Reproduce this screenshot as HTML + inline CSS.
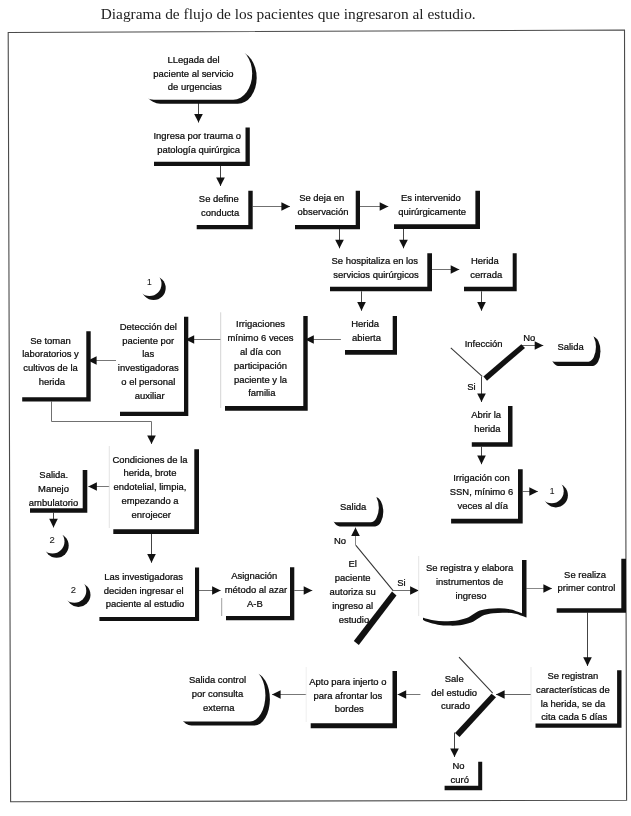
<!DOCTYPE html>
<html><head><meta charset="utf-8"><title>Diagrama de flujo</title>
<style>
html,body{margin:0;padding:0;background:#fff;}
body{width:631px;height:816px;overflow:hidden;font-family:"Liberation Sans",sans-serif;}
svg{display:block;will-change:transform;transform:translateZ(0);}
svg text{font-family:"Liberation Sans",sans-serif;fill:#0a0a0a;stroke:#0a0a0a;stroke-width:0.24px;}
svg text.dig{stroke:#1a1a1a;stroke-width:0.1px;fill:#1a1a1a;}
svg text.title{font-family:"Liberation Serif",serif;fill:#222;stroke:none;}
</style></head><body>
<svg width="631" height="816" viewBox="0 0 631 816">
<rect width="631" height="816" fill="#fff"/>
<text class="title" x="100.7" y="18.5" font-size="14.6" textLength="375" lengthAdjust="spacingAndGlyphs">Diagrama de flujo de los pacientes que ingresaron al estudio.</text>
<path d="M198.5,103.0 L198.5,122.5" fill="none" stroke="#444" stroke-width="1.0"/>
<polygon points="198.5,122.5 194.2,113.9 202.8,113.9" fill="#111"/>
<path d="M220.5,166.0 L220.5,186.0" fill="none" stroke="#444" stroke-width="1.0"/>
<polygon points="220.5,186.0 216.2,177.4 224.8,177.4" fill="#111"/>
<path d="M252.7,206.5 L290.0,206.5" fill="none" stroke="#707070" stroke-width="1.0"/>
<polygon points="290.0,206.5 281.4,210.8 281.4,202.2" fill="#111"/>
<path d="M360.0,206.5 L388.3,206.5" fill="none" stroke="#707070" stroke-width="1.0"/>
<polygon points="388.3,206.5 379.7,210.8 379.7,202.2" fill="#111"/>
<path d="M339.5,229.0 L339.5,248.3" fill="none" stroke="#444" stroke-width="1.0"/>
<polygon points="339.5,248.3 335.2,239.7 343.8,239.7" fill="#111"/>
<path d="M403.5,229.0 L403.5,248.3" fill="none" stroke="#444" stroke-width="1.0"/>
<polygon points="403.5,248.3 399.2,239.7 407.8,239.7" fill="#111"/>
<path d="M432.0,269.5 L459.3,269.5" fill="none" stroke="#707070" stroke-width="1.0"/>
<polygon points="459.3,269.5 450.7,273.8 450.7,265.2" fill="#111"/>
<path d="M361.5,291.3 L361.5,310.7" fill="none" stroke="#444" stroke-width="1.0"/>
<polygon points="361.5,310.7 357.2,302.1 365.8,302.1" fill="#111"/>
<path d="M481.5,291.3 L481.5,310.7" fill="none" stroke="#444" stroke-width="1.0"/>
<polygon points="481.5,310.7 477.2,302.1 485.8,302.1" fill="#111"/>
<path d="M340.9,339.5 L305.2,339.5" fill="none" stroke="#707070" stroke-width="1.0"/>
<polygon points="305.2,339.5 313.8,335.2 313.8,343.8" fill="#111"/>
<path d="M220.9,339.5 L185.6,339.5" fill="none" stroke="#707070" stroke-width="1.0"/>
<polygon points="185.6,339.5 194.2,335.2 194.2,343.8" fill="#111"/>
<path d="M116.0,360.5 L88.0,360.5" fill="none" stroke="#777" stroke-width="1.0"/>
<polygon points="88.0,360.5 96.6,356.2 96.6,364.8" fill="#111"/>
<path d="M51.5,401.5 L51.5,421.5 L151.5,421.5 L151.5,444.0" fill="none" stroke="#707070" stroke-width="1.0"/>
<polygon points="151.5,444.0 147.2,435.4 155.8,435.4" fill="#111"/>
<path d="M109.3,486.5 L88.3,486.5" fill="none" stroke="#777" stroke-width="1.0"/>
<polygon points="88.3,486.5 96.9,482.2 96.9,490.8" fill="#111"/>
<path d="M53.5,512.7 L53.5,527.4" fill="none" stroke="#444" stroke-width="1.0"/>
<polygon points="53.5,527.4 49.2,518.8 57.8,518.8" fill="#111"/>
<path d="M151.5,534.0 L151.5,562.7" fill="none" stroke="#444" stroke-width="1.0"/>
<polygon points="151.5,562.7 147.2,554.1 155.8,554.1" fill="#111"/>
<path d="M199.0,590.5 L220.7,590.5" fill="none" stroke="#707070" stroke-width="1.0"/>
<polygon points="220.7,590.5 212.1,594.8 212.1,586.2" fill="#111"/>
<path d="M294.3,590.5 L312.3,590.5" fill="none" stroke="#707070" stroke-width="1.0"/>
<polygon points="312.3,590.5 303.7,594.8 303.7,586.2" fill="#111"/>
<path d="M355.5,545.5 L355.5,527.5" fill="none" stroke="#888" stroke-width="1.0"/>
<polygon points="355.5,527.5 359.8,536.1 351.2,536.1" fill="#111"/>
<path d="M393.3,590.5 L418.7,590.5" fill="none" stroke="#707070" stroke-width="1.0"/>
<polygon points="418.7,590.5 410.1,594.8 410.1,586.2" fill="#111"/>
<path d="M526.3,588.5 L552.0,588.5" fill="none" stroke="#888" stroke-width="1.0"/>
<polygon points="552.0,588.5 543.4,592.8 543.4,584.2" fill="#111"/>
<path d="M587.5,612.4 L587.5,665.9" fill="none" stroke="#444" stroke-width="1.0"/>
<polygon points="587.5,665.9 583.2,657.3 591.8,657.3" fill="#111"/>
<path d="M531.0,694.5 L496.0,694.5" fill="none" stroke="#666" stroke-width="1.0"/>
<polygon points="496.0,694.5 504.6,690.2 504.6,698.8" fill="#111"/>
<path d="M420.4,694.5 L397.6,694.5" fill="none" stroke="#777" stroke-width="1.0"/>
<polygon points="397.6,694.5 406.2,690.2 406.2,698.8" fill="#111"/>
<path d="M306.2,694.5 L272.0,694.5" fill="none" stroke="#777" stroke-width="1.0"/>
<polygon points="272.0,694.5 280.6,690.2 280.6,698.8" fill="#111"/>
<path d="M454.5,732.5 L454.5,757.0" fill="none" stroke="#444" stroke-width="1.0"/>
<polygon points="454.5,757.0 450.2,748.4 458.8,748.4" fill="#111"/>
<path d="M521.0,345.5 L543.3,345.5" fill="none" stroke="#666" stroke-width="1.0"/>
<polygon points="543.3,345.5 534.7,349.8 534.7,341.2" fill="#111"/>
<path d="M481.5,376.5 L481.5,402.0" fill="none" stroke="#444" stroke-width="1.0"/>
<polygon points="481.5,402.0 477.2,393.4 485.8,393.4" fill="#111"/>
<path d="M481.5,446.8 L481.5,464.2" fill="none" stroke="#444" stroke-width="1.0"/>
<polygon points="481.5,464.2 477.2,455.6 485.8,455.6" fill="#111"/>
<path d="M522.7,491.5 L537.9,491.5" fill="none" stroke="#707070" stroke-width="1.0"/>
<polygon points="537.9,491.5 529.3,495.8 529.3,487.2" fill="#111"/>
<polygon points="8.2,32.5 624.5,30.0 626.6,800.3 10.6,801.7" fill="none" stroke="#4a4a4a" stroke-width="1.1"/>
<path d="M245.5,127.5 H249.8 V166.0 H154.0 V161.8 H245.5 Z" fill="#111"/>
<path d="M248.3,190.7 H252.7 V229.3 H196.7 V225.0 H248.3 Z" fill="#111"/>
<path d="M355.7,190.7 H360.0 V229.3 H295.0 V225.0 H355.7 Z" fill="#111"/>
<path d="M475.4,190.7 H480.0 V229.0 H394.0 V224.3 H475.4 Z" fill="#111"/>
<path d="M427.3,253.3 H432.0 V291.3 H330.0 V286.7 H427.3 Z" fill="#111"/>
<path d="M512.7,253.3 H516.7 V291.3 H464.0 V286.7 H512.7 Z" fill="#111"/>
<path d="M392.7,316.0 H397.0 V354.7 H345.0 V350.0 H392.7 Z" fill="#111"/>
<path d="M303.3,316.0 H307.7 V410.7 H225.0 V406.0 H303.3 Z" fill="#111"/>
<line x1="220.7" y1="312.3" x2="220.7" y2="408.0" stroke="#c8c8c8" stroke-width="0.8"/>
<path d="M184.0,316.7 H188.3 V416.0 H120.0 V411.7 H184.0 Z" fill="#111"/>
<path d="M86.3,331.2 H90.7 V401.5 H22.2 V397.2 H86.3 Z" fill="#111"/>
<path d="M508.0,406.0 H512.5 V446.8 H471.8 V442.2 H508.0 Z" fill="#111"/>
<path d="M518.0,469.2 H522.7 V523.4 H451.1 V518.7 H518.0 Z" fill="#111"/>
<path d="M194.3,449.3 H199.0 V534.0 H113.3 V529.3 H194.3 Z" fill="#111"/>
<line x1="109.3" y1="446.0" x2="109.3" y2="528.0" stroke="#dcdcdc" stroke-width="0.8"/>
<path d="M82.7,470.0 H87.3 V512.7 H30.0 V508.3 H82.7 Z" fill="#111"/>
<path d="M195.0,567.6 H199.1 V620.9 H99.4 V617.0 H195.0 Z" fill="#111"/>
<path d="M290.0,567.3 H294.3 V620.3 H226.0 V616.0 H290.0 Z" fill="#111"/>
<line x1="221.7" y1="598.0" x2="221.7" y2="616.0" stroke="#888" stroke-width="0.8"/>
<path d="M621.3,558.8 H626.0 V612.8 H556.7 V608.3 H621.3 Z" fill="#111"/>
<path d="M617.1,670.3 H621.5 V727.8 H535.5 V723.4 H617.1 Z" fill="#111"/>
<line x1="531.0" y1="667.0" x2="531.0" y2="722.0" stroke="#e6e6e6" stroke-width="0.8"/>
<path d="M392.5,671.0 H397.0 V728.3 H310.7 V723.3 H392.5 Z" fill="#111"/>
<line x1="306.2" y1="667.0" x2="306.2" y2="722.0" stroke="#ececec" stroke-width="0.8"/>
<path d="M478.2,761.7 H482.2 V790.2 H444.6 V785.8 H478.2 Z" fill="#111"/>
<path d="M423.0,559.9 H526.5 V617.6 C524.65,616.97 519.10,614.62 515.40,613.80 C511.70,612.98 507.98,612.80 504.30,612.70 C500.62,612.60 496.62,612.82 493.30,613.20 C489.98,613.58 487.00,614.08 484.40,615.00 C481.80,615.92 479.92,617.45 477.70,618.70 C475.48,619.95 474.05,621.42 471.10,622.50 C468.15,623.58 463.70,624.68 460.00,625.20 C456.30,625.72 452.60,625.68 448.90,625.60 C445.20,625.52 441.32,625.28 437.80,624.70 C434.28,624.12 430.27,622.88 427.80,622.10 C425.33,621.32 423.80,620.35 423.00,620.00 Z" fill="#111"/>
<path d="M418.5,555.5 H522 V613.2 C520.15,612.57 514.60,610.22 510.90,609.40 C507.20,608.58 503.48,608.40 499.80,608.30 C496.12,608.20 492.12,608.42 488.80,608.80 C485.48,609.18 482.50,609.68 479.90,610.60 C477.30,611.52 475.42,613.05 473.20,614.30 C470.98,615.55 469.55,617.02 466.60,618.10 C463.65,619.18 459.20,620.28 455.50,620.80 C451.80,621.32 448.10,621.28 444.40,621.20 C440.70,621.12 436.82,620.88 433.30,620.30 C429.78,619.72 425.77,618.48 423.30,617.70 C420.83,616.92 419.30,615.95 418.50,615.60 Z" fill="#fff"/>
<line x1="418.7" y1="556" x2="418.7" y2="616" stroke="#dcdcdc" stroke-width="0.8"/>
<path d="M160.2,51.6 H237.8 A18.9,26.1 0 0 1 237.8,103.8 H160.2 A18.9,26.1 0 0 1 160.2,51.6 Z" fill="#111"/>
<path d="M153.7,47.5 H233.3 A18.9,26.1 0 0 1 233.3,99.7 H153.7 A18.9,26.1 0 0 1 153.7,47.5 Z" fill="#fff"/>
<path d="M557.9,336.4 H593.0 A8.1,14.8 0 0 1 593.0,365.9 H557.9 A8.1,14.8 0 0 1 557.9,336.4 Z" fill="#111"/>
<path d="M554.1,332.3 H588.5 A8.1,14.8 0 0 1 588.5,361.8 H554.1 A8.1,14.8 0 0 1 554.1,332.3 Z" fill="#fff"/>
<path d="M339.8,497.0 H375.1 A8.2,14.7 0 0 1 375.1,526.4 H339.8 A8.2,14.7 0 0 1 339.8,497.0 Z" fill="#111"/>
<path d="M336.0,492.9 H370.6 A8.2,14.7 0 0 1 370.6,522.3 H336.0 A8.2,14.7 0 0 1 336.0,492.9 Z" fill="#fff"/>
<path d="M191.5,673.1 H254.5 A15.4,26.2 0 0 1 254.5,725.5 H191.5 A15.4,26.2 0 0 1 191.5,673.1 Z" fill="#111"/>
<path d="M185.0,669.0 H250.0 A15.4,26.2 0 0 1 250.0,721.4 H185.0 A15.4,26.2 0 0 1 185.0,669.0 Z" fill="#fff"/>
<circle cx="153.6" cy="288.0" r="12.1" fill="#111"/>
<circle cx="149.5" cy="284.0" r="12" fill="#fff"/>
<circle cx="555.8000000000001" cy="495.3" r="12.1" fill="#111"/>
<circle cx="551.7" cy="491.3" r="12" fill="#fff"/>
<circle cx="56.6" cy="545.6" r="12.1" fill="#111"/>
<circle cx="52.5" cy="541.6" r="12" fill="#fff"/>
<circle cx="78.39999999999999" cy="594.8" r="12.1" fill="#111"/>
<circle cx="74.3" cy="590.8" r="12" fill="#fff"/>
<line x1="450.8" y1="347.9" x2="482.2" y2="376.4" stroke="#333" stroke-width="1.05"/>
<polygon points="483.4,376.4 521.3,344.2 525.0,347.9 487.0,380.7" fill="#111"/>
<line x1="355.9" y1="545.4" x2="393.3" y2="590.8" stroke="#333" stroke-width="1.05"/>
<polygon points="392.0,591.5 396.5,595.5 358.8,645.0 353.8,641.0" fill="#111"/>
<line x1="459.0" y1="657.2" x2="492.7" y2="693.2" stroke="#333" stroke-width="1.05"/>
<polygon points="491.5,693.8 496.0,697.3 459.5,737.0 455.0,733.0" fill="#111"/>
<text x="193.5" y="62.7" font-size="9.45" text-anchor="middle">LLegada del</text>
<text x="193.5" y="76.5" font-size="9.45" text-anchor="middle">paciente al servicio</text>
<text x="194.8" y="90.2" font-size="9.45" text-anchor="middle">de urgencias</text>
<text x="197.3" y="138.8" font-size="9.45" text-anchor="middle">Ingresa por trauma o</text>
<text x="198.6" y="152.7" font-size="9.45" text-anchor="middle">patología quirúrgica</text>
<text x="218.8" y="202.0" font-size="9.45" text-anchor="middle">Se define</text>
<text x="220.1" y="215.8" font-size="9.45" text-anchor="middle">conducta</text>
<text x="321.7" y="201.3" font-size="9.45" text-anchor="middle">Se deja en</text>
<text x="323.0" y="215.1" font-size="9.45" text-anchor="middle">observación</text>
<text x="430.9" y="201.4" font-size="9.45" text-anchor="middle">Es intervenido</text>
<text x="432.2" y="215.2" font-size="9.45" text-anchor="middle">quirúrgicamente</text>
<text x="374.8" y="264.0" font-size="9.45" text-anchor="middle">Se hospitaliza en los</text>
<text x="376.1" y="277.8" font-size="9.45" text-anchor="middle">servicios quirúrgicos</text>
<text x="484.9" y="264.0" font-size="9.45" text-anchor="middle">Herida</text>
<text x="486.2" y="277.8" font-size="9.45" text-anchor="middle">cerrada</text>
<text x="365.2" y="326.9" font-size="9.45" text-anchor="middle">Herida</text>
<text x="366.5" y="340.7" font-size="9.45" text-anchor="middle">abierta</text>
<text x="260.5" y="327.3" font-size="9.45" text-anchor="middle">Irrigaciones</text>
<text x="260.5" y="341.1" font-size="9.45" text-anchor="middle">mínimo 6 veces</text>
<text x="260.5" y="354.9" font-size="9.45" text-anchor="middle">al día con</text>
<text x="260.5" y="368.7" font-size="9.45" text-anchor="middle">participación</text>
<text x="260.5" y="382.5" font-size="9.45" text-anchor="middle">paciente y la</text>
<text x="261.8" y="396.3" font-size="9.45" text-anchor="middle">familia</text>
<text x="148.3" y="329.8" font-size="9.45" text-anchor="middle">Detección del</text>
<text x="148.3" y="343.6" font-size="9.45" text-anchor="middle">paciente por</text>
<text x="148.3" y="357.4" font-size="9.45" text-anchor="middle">las</text>
<text x="148.3" y="371.2" font-size="9.45" text-anchor="middle">investigadoras</text>
<text x="148.3" y="385.0" font-size="9.45" text-anchor="middle">o el personal</text>
<text x="149.7" y="398.8" font-size="9.45" text-anchor="middle">auxiliar</text>
<text x="50.5" y="343.6" font-size="9.45" text-anchor="middle">Se toman</text>
<text x="50.5" y="357.4" font-size="9.45" text-anchor="middle">laboratorios y</text>
<text x="50.5" y="371.2" font-size="9.45" text-anchor="middle">cultivos de la</text>
<text x="51.8" y="385.0" font-size="9.45" text-anchor="middle">herida</text>
<text x="486.1" y="418.1" font-size="9.45" text-anchor="middle">Abrir la</text>
<text x="487.4" y="431.9" font-size="9.45" text-anchor="middle">herida</text>
<text x="481.5" y="481.3" font-size="9.45" text-anchor="middle">Irrigación con</text>
<text x="481.5" y="495.1" font-size="9.45" text-anchor="middle">SSN, mínimo 6</text>
<text x="482.8" y="508.9" font-size="9.45" text-anchor="middle">veces al día</text>
<text x="150.0" y="462.5" font-size="9.45" text-anchor="middle">Condiciones de la</text>
<text x="150.0" y="476.3" font-size="9.45" text-anchor="middle">herida, brote</text>
<text x="150.0" y="490.1" font-size="9.45" text-anchor="middle">endotelial, limpia,</text>
<text x="150.0" y="503.9" font-size="9.45" text-anchor="middle">empezando a</text>
<text x="151.3" y="517.8" font-size="9.45" text-anchor="middle">enrojecer</text>
<text x="53.8" y="478.2" font-size="9.45" text-anchor="middle">Salida.</text>
<text x="53.5" y="492.0" font-size="9.45" text-anchor="middle">Manejo</text>
<text x="53.5" y="505.8" font-size="9.45" text-anchor="middle">ambulatorio</text>
<text x="143.7" y="579.8" font-size="9.45" text-anchor="middle">Las investigadoras</text>
<text x="143.7" y="593.6" font-size="9.45" text-anchor="middle">deciden ingresar el</text>
<text x="145.0" y="607.4" font-size="9.45" text-anchor="middle">paciente al estudio</text>
<text x="254.3" y="578.9" font-size="9.45" text-anchor="middle">Asignación</text>
<text x="255.9" y="592.7" font-size="9.45" text-anchor="middle">método al azar</text>
<text x="254.9" y="606.5" font-size="9.45" text-anchor="middle">A-B</text>
<text x="585.1" y="577.6" font-size="9.45" text-anchor="middle">Se realiza</text>
<text x="586.4" y="591.4" font-size="9.45" text-anchor="middle">primer control</text>
<text x="572.9" y="678.9" font-size="9.45" text-anchor="middle">Se registran</text>
<text x="572.9" y="692.8" font-size="9.45" text-anchor="middle">características de</text>
<text x="572.9" y="706.5" font-size="9.45" text-anchor="middle">la herida, se da</text>
<text x="574.2" y="720.4" font-size="9.45" text-anchor="middle">cita cada 5 días</text>
<text x="347.9" y="684.7" font-size="9.45" text-anchor="middle">Apto para injerto o</text>
<text x="347.9" y="698.5" font-size="9.45" text-anchor="middle">para afrontar los</text>
<text x="349.2" y="712.2" font-size="9.45" text-anchor="middle">bordes</text>
<text x="458.5" y="769.4" font-size="9.45" text-anchor="middle">No</text>
<text x="459.8" y="783.1" font-size="9.45" text-anchor="middle">curó</text>
<text x="469.6" y="570.5" font-size="9.45" text-anchor="middle">Se registra y elabora</text>
<text x="469.6" y="584.5" font-size="9.45" text-anchor="middle">instrumentos de</text>
<text x="470.9" y="599.1" font-size="9.45" text-anchor="middle">ingreso</text>
<text x="570.6" y="349.7" font-size="9.45" text-anchor="middle">Salida</text>
<text x="353.2" y="510.1" font-size="9.45" text-anchor="middle">Salida</text>
<text x="217.5" y="682.9" font-size="9.45" text-anchor="middle">Salida control</text>
<text x="217.5" y="696.9" font-size="9.45" text-anchor="middle">por consulta</text>
<text x="218.8" y="711.4" font-size="9.45" text-anchor="middle">externa</text>
<text x="352.7" y="566.9" font-size="9.45" text-anchor="middle">El</text>
<text x="352.7" y="580.8" font-size="9.45" text-anchor="middle">paciente</text>
<text x="352.7" y="594.8" font-size="9.45" text-anchor="middle">autoriza su</text>
<text x="352.7" y="608.7" font-size="9.45" text-anchor="middle">ingreso al</text>
<text x="354.0" y="622.7" font-size="9.45" text-anchor="middle">estudio</text>
<text x="454.2" y="681.9" font-size="9.45" text-anchor="middle">Sale</text>
<text x="454.2" y="695.5" font-size="9.45" text-anchor="middle">del estudio</text>
<text x="455.5" y="709.4" font-size="9.45" text-anchor="middle">curado</text>
<text x="483.6" y="347.4" font-size="9.45" text-anchor="middle">Infección</text>
<text x="529.3" y="340.8" font-size="9.45" text-anchor="middle">No</text>
<text x="471.4" y="389.6" font-size="9.45" text-anchor="middle">Si</text>
<text x="340.0" y="544.1" font-size="9.45" text-anchor="middle">No</text>
<text x="401.4" y="585.9" font-size="9.45" text-anchor="middle">Si</text>
<text class="dig" x="149.4" y="285.4" font-size="8.5" text-anchor="middle">1</text>
<text class="dig" x="552.0" y="493.5" font-size="8.5" text-anchor="middle">1</text>
<text class="dig" x="52.2" y="543.2" font-size="9.45" text-anchor="middle">2</text>
<text class="dig" x="73.3" y="592.6" font-size="9.45" text-anchor="middle">2</text>
</svg>
</body></html>
